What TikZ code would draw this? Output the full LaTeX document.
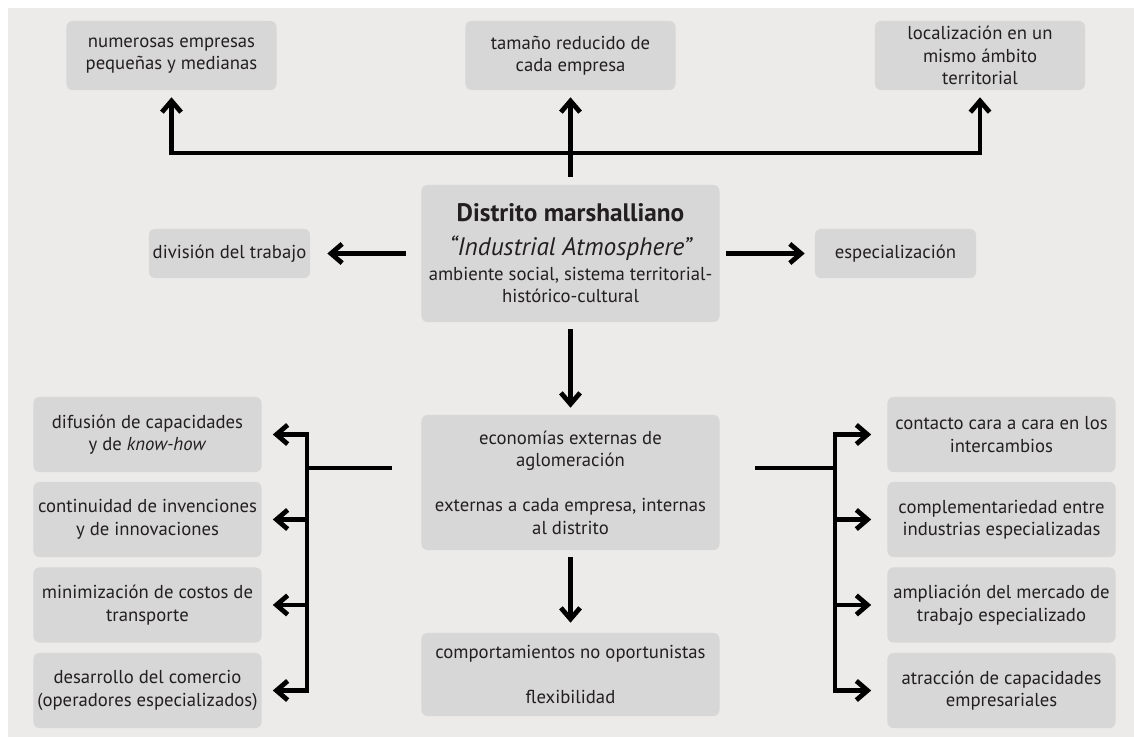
\documentclass[tikz,border=0pt]{standalone}
\usepackage{fontspec}
\setmainfont{PT Sans}
\usetikzlibrary{arrows.meta}
\definecolor{fondo}{HTML}{ECEBE9}
\definecolor{caja}{HTML}{D7D7D7}
\definecolor{tinta}{HTML}{231F20}
\tikzset{
  box/.style={fill=caja, rounded corners=1.5mm, align=center, text=tinta, inner sep=0pt,
    font=\fontsize{13.3}{16}\selectfont},
  top/.style={box, minimum width=5.25cm, minimum height=1.725cm},
  side/.style={box, minimum width=4.025cm, minimum height=1.225cm},
  mid/.style={box, minimum width=7.45cm},
  col/.style={box, minimum width=5.7cm, minimum height=1.875cm},
  bar/.style={line width=3.4pt},
  arr/.style={bar, -{Straight Barb[length=2.8mm,width=4.8mm]}}
}
\begin{document}
\begin{tikzpicture}[x=0.025cm, y=-0.025cm]
\useasboundingbox (0,0) rectangle (1134,737);
\fill[fondo] (8,8) rectangle (1134,737);

% Fila superior
\node[top] (emp) at (171.5,55.5) {numerosas empresas\\pequeñas y medianas};
\node[top] (tam) at (570.5,55.5) {tamaño reducido de\\cada empresa};
\node[top] (loc) at (980,55.5) {localización en un\\mismo ámbito\\territorial};

% Distrito
\node[mid, minimum height=3.425cm] (dist) at (570.5,253.5)
  {{\bfseries\fontsize{18}{18}\selectfont Distrito marshalliano}\\[8pt]
   {\itshape\fontsize{18}{18}\selectfont “Industrial Atmosphere”}\\[1.5pt]
   ambiente social, sistema territorial-\\
   histórico-cultural};
\node[side] (div) at (229.5,253.5) {división del trabajo};
\node[side] (esp) at (895.5,253.5) {especialización};

% Economias externas
\node[mid, minimum height=3.375cm] (eco) at (570.5,482.5)
  {economías externas de\\aglomeración\\[\baselineskip]externas a cada empresa, internas\\al distrito};
\node[mid, minimum height=2.075cm] (comp) at (570.5,674.5)
  {comportamientos no oportunistas\\[\baselineskip]flexibilidad};

% Columna izquierda
\node[col] (L1) at (147.5,434.5) {difusión de capacidades\\y de \textit{know-how}};
\node[col] (L2) at (147.5,519.5) {continuidad de invenciones\\y de innovaciones};
\node[col] (L3) at (147.5,605) {minimización de costos de\\transporte};
\node[col] (L4) at (147.5,690.5) {desarrollo del comercio\\(operadores especializados)};

% Columna derecha
\node[col] (R1) at (1001.5,434.5) {contacto cara a cara en los\\intercambios};
\node[col] (R2) at (1001.5,519.5) {complementariedad entre\\industrias especializadas};
\node[col] (R3) at (1001.5,605) {ampliación del mercado de\\trabajo especializado};
\node[col] (R4) at (1001.5,690.5) {atracción de capacidades\\empresariales};

% Flechas hacia arriba
\coordinate (bus) at (570.5,153);
\draw[arr, shorten <=0.2cm, shorten >=0.175cm] (dist.north) -- (tam.south);
\draw[arr, shorten >=0.175cm] (bus) -| (emp.south);
\draw[arr, shorten >=0.175cm] (bus) -| (loc.south);

% Flechas laterales
\draw[arr, shorten <=0.375cm, shorten >=0.425cm] (dist.west) -- (div.east);
\draw[arr, shorten <=0.15cm, shorten >=0.25cm] (dist.east) -- (esp.west);

% Flechas hacia abajo
\draw[arr, shorten <=0.175cm, shorten >=0.175cm] (dist.south) -- (eco.north);
\draw[arr, shorten <=0.175cm, shorten >=0.25cm] (eco.south) -- (comp.north);

% Ramas
\coordinate (lfeed) at (392,468);
\coordinate (lbar) at (307,468);
\coordinate (rfeed) at (755,468);
\coordinate (rbar) at (835,468);
\draw[bar] (lfeed) -- (lbar);
\draw[bar] (rfeed) -- (rbar);
\foreach \i in {1,...,4}{
  \draw[arr, shorten >=0.275cm] (lbar) |- (L\i.east);
  \draw[arr, shorten >=0.4cm] (rbar) |- (R\i.west);
}
\end{tikzpicture}
\end{document}
